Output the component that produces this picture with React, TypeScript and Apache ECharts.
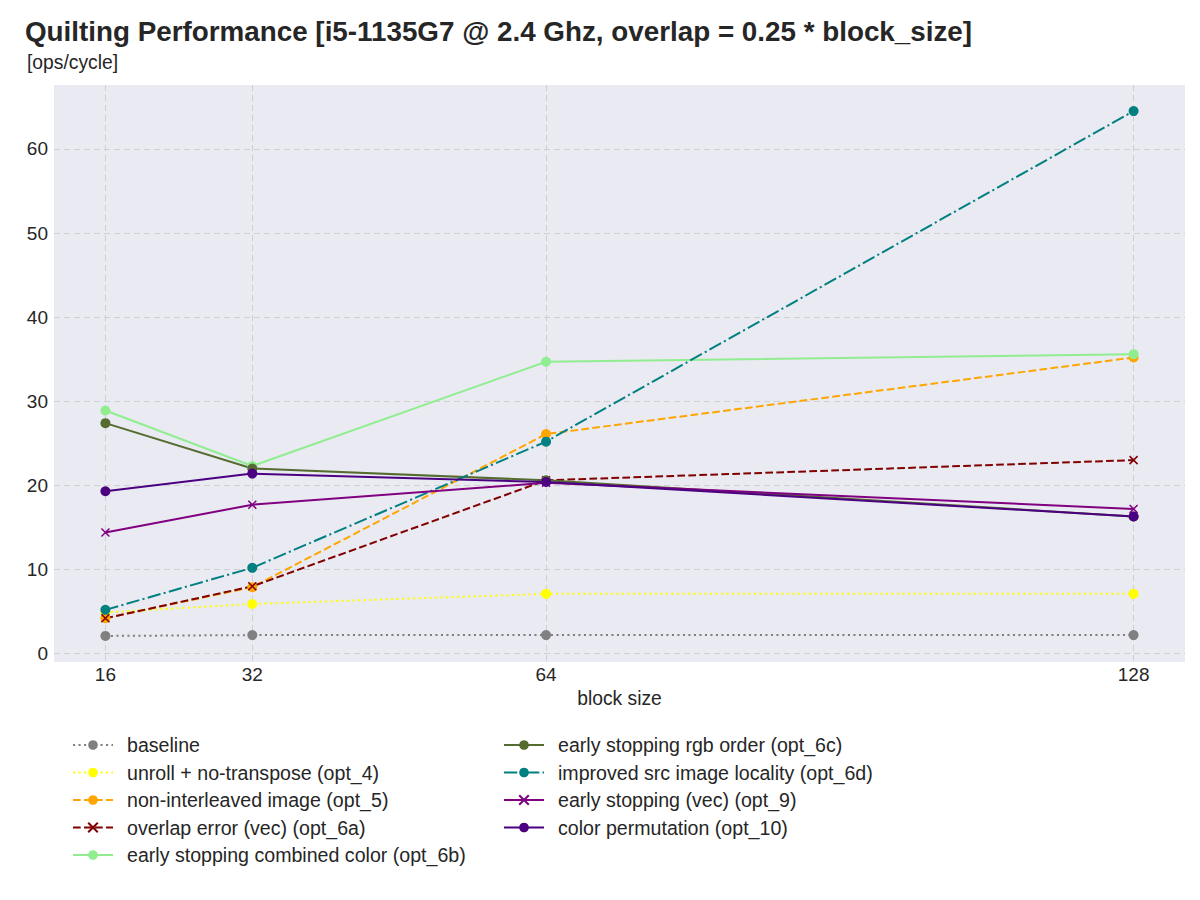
import React, { useEffect, useRef } from "react";
import * as echarts from "echarts";

const blockSizes = [16, 32, 64, 128];
const yTicks = [0, 10, 20, 30, 40, 50, 60];

const baseline = [2.1, 2.2, 2.2, 2.2];
const opt4 = [4.9, 5.9, 7.1, 7.1];
const opt5 = [4.2, 7.9, 26.1, 35.2];
const opt6a = [4.2, 8.0, 20.6, 23.0];
const opt6b = [28.9, 22.3, 34.7, 35.6];
const opt6c = [27.4, 22.0, 20.6, 16.3];
const opt6d = [5.2, 10.2, 25.2, 64.5];
const opt9 = [14.4, 17.7, 20.3, 17.2];
const opt10 = [19.3, 21.4, 20.4, 16.3];

const names = [
  "baseline",
  "unroll + no-transpose (opt_4)",
  "non-interleaved image (opt_5)",
  "overlap error (vec) (opt_6a)",
  "early stopping combined color (opt_6b)",
  "early stopping rgb order (opt_6c)",
  "improved src image locality (opt_6d)",
  "early stopping (vec) (opt_9)",
  "color permutation (opt_10)",
];

const X_SYMBOL = "path://M0,0L10,10M10,0L0,10";

const DOTTED = [2.1, 3.4];
const DASHED = [7.7, 3.3];
const DASHDOT = [13.3, 3.3, 2.1, 3.3];

export default function App() {
  const ref = useRef<HTMLDivElement>(null);
  useEffect(() => {
    if (!ref.current) return;
    const chart = echarts.init(ref.current, undefined, { renderer: "svg" });
    const font = "Liberation Sans, Arial, sans-serif";
    const mk = (
      name: string,
      vals: number[],
      color: string,
      dash: any,
      marker: "circle" | "x"
    ) => ({
      name,
      type: "line",
      data: blockSizes.map((b, i) => [b, vals[i]]),
      symbol: marker === "x" ? X_SYMBOL : "circle",
      symbolSize: marker === "x" ? 8 : 10,
      showSymbol: true,
      color,
      lineStyle: { color, width: 2, type: dash },
      itemStyle:
        marker === "x"
          ? { color, borderColor: color, borderWidth: 1.5 }
          : { color, borderWidth: 0 },
      emphasis: { disabled: true },
    });
    const legendCommon = {
      orient: "vertical",
      padding: 0,
      itemWidth: 40,
      itemHeight: 12,
      itemGap: 7.5,
      selectedMode: false,
      textStyle: {
        fontFamily: font,
        fontSize: 19.6,
        color: "#262626",
        lineHeight: 20,
        padding: [0, 0, 0, 9],
      },
    };
    chart.setOption({
      animation: false,
      backgroundColor: "#ffffff",
      title: [
        {
          text: "Quilting Performance [i5-1135G7 @ 2.4 Ghz, overlap = 0.25 * block_size]",
          left: 25,
          top: 17,
          padding: 0,
          textStyle: { fontFamily: font, fontSize: 27.8, fontWeight: "bold", color: "#262626" },
        },
        {
          text: "[ops/cycle]",
          left: 27,
          top: 53,
          padding: 0,
          textStyle: { fontFamily: font, fontSize: 19.3, fontWeight: "normal", color: "#262626" },
        },
      ],
      grid: {
        left: 54,
        right: 15,
        top: 85,
        bottom: 238,
        show: true,
        backgroundColor: "#EAEAF2",
        borderWidth: 0,
        containLabel: false,
      },
      xAxis: {
        type: "value",
        min: 10.4,
        max: 133.6,
        name: "block size",
        nameLocation: "middle",
        nameGap: 24,
        nameTextStyle: { fontFamily: font, fontSize: 19.3, color: "#262626" },
        axisLine: { show: false },
        axisTick: { show: false, customValues: blockSizes },
        axisLabel: {
          customValues: blockSizes,
          fontFamily: font,
          fontSize: 19,
          color: "#262626",
          margin: 3,
        },
        splitLine: {
          show: true,
          lineStyle: { color: "#cfcfcf", width: 1, type: [6, 4] },
        },
      },
      yAxis: {
        type: "value",
        min: -1.0,
        max: 67.6,
        axisLine: { show: false },
        axisTick: { show: false, customValues: yTicks },
        axisLabel: {
          customValues: yTicks,
          fontFamily: font,
          fontSize: 19,
          color: "#262626",
          margin: 6,
        },
        splitLine: {
          show: true,
          lineStyle: { color: "#cfcfcf", width: 1, type: [6, 4] },
        },
      },
      legend: [
        { ...legendCommon, left: 72, top: 735, data: names.slice(0, 5) },
        { ...legendCommon, left: 503, top: 735, data: names.slice(5) },
      ],
      series: [
        mk(names[0], baseline, "#808080", DOTTED, "circle"),
        mk(names[1], opt4, "#ffff00", DOTTED, "circle"),
        mk(names[2], opt5, "#ffa500", DASHED, "circle"),
        mk(names[3], opt6a, "#800000", DASHED, "x"),
        mk(names[4], opt6b, "#90ee90", "solid", "circle"),
        mk(names[5], opt6c, "#556b2f", "solid", "circle"),
        mk(names[6], opt6d, "#008080", DASHDOT, "circle"),
        mk(names[7], opt9, "#800080", "solid", "x"),
        mk(names[8], opt10, "#4b0082", "solid", "circle"),
      ],
    });
    return () => chart.dispose();
  }, []);
  return <div ref={ref} style={{ width: 1200, height: 900, margin: -8 }} />;
}
